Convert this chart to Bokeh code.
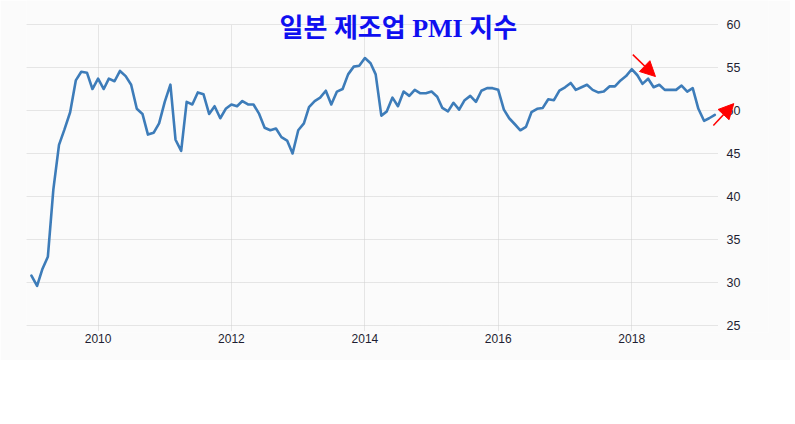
import pandas as pd
from bokeh.plotting import figure
from bokeh.models import Range1d, FixedTicker, DatetimeTickFormatter, Label, Arrow, NormalHead, ColumnDataSource
from bokeh.embed import file_html
from bokeh.resources import INLINE

# ---- data: Japan manufacturing PMI, monthly from Jan 2009 ----
start_month = "2009-01-01"
pmi_2009 = [30.8, 29.6, 31.5, 33.0, 40.8, 46.0, 47.8, 49.8, 53.5, 54.5, 54.4, 52.5]
pmi_2010 = [53.7, 52.5, 53.7, 53.4, 54.6, 54.0, 53.0, 50.2, 49.6, 47.2, 47.4, 48.5]
pmi_2011 = [51.0, 53.0, 46.6, 45.3, 51.0, 50.7, 52.1, 51.9, 49.6, 50.5, 49.1, 50.2]
pmi_2012 = [50.7, 50.5, 51.1, 50.7, 50.7, 49.6, 48.0, 47.7, 47.9, 46.9, 46.5, 45.0]
pmi_2013 = [47.7, 48.5, 50.4, 51.1, 51.5, 52.3, 50.7, 52.2, 52.5, 54.2, 55.1, 55.2]
pmi_2014 = [56.1, 55.5, 54.2, 49.4, 49.9, 51.5, 50.5, 52.2, 51.7, 52.4, 52.0, 52.0]
pmi_2015 = [52.2, 51.6, 50.3, 49.9, 50.9, 50.1, 51.2, 51.7, 51.0, 52.3, 52.6, 52.6]
pmi_2016 = [52.4, 50.1, 49.1, 48.4, 47.7, 48.1, 49.8, 50.2, 50.3, 51.3, 51.2, 52.3]
pmi_2017 = [52.7, 53.2, 52.4, 52.7, 53.0, 52.4, 52.1, 52.2, 52.8, 52.8, 53.5, 54.0]
pmi_2018 = [54.8, 54.1, 53.1, 53.7, 52.7, 53.0, 52.4, 52.4, 52.4, 52.9, 52.2, 52.6]
pmi_2019 = [50.2, 48.8, 49.1, 49.5]

y_ticks = [25, 30, 35, 40, 45, 50, 55, 60]
x_tick_years = [2010, 2012, 2014, 2016, 2018]
grid_x_extent = ["2008-12-05", "2019-04-16"]   # extent of the gridded area
grid_y_extent = [24.42, 60]
view_x_range = ["2008-12-05", "2020-01-20"]
view_y_range = [24.186, 62.791]

title_text = "일본 제조업 PMI 지수"
title_pos = ["2014-07-03", 59.5]

# annotation arrows (start date, start value, end date, end value)
arrow_x_start = ["2018-01-07", "2019-03-24"]
arrow_y_start = [56.5, 48.25]
arrow_x_end = ["2018-05-11", "2019-07-14"]
arrow_y_end = [53.95, 50.8]

# ---- build ----
pmi = pmi_2009 + pmi_2010 + pmi_2011 + pmi_2012 + pmi_2013 + pmi_2014 + \
      pmi_2015 + pmi_2016 + pmi_2017 + pmi_2018 + pmi_2019
dates = pd.date_range(start_month, periods=len(pmi), freq="MS")
src = ColumnDataSource(dict(date=dates, pmi=pmi))


def ms(d):
    return pd.Timestamp(d).value / 1e6


p = figure(
    x_axis_type="datetime",
    y_axis_location="right",
    frame_width=742, frame_height=332,
    min_border_left=26, min_border_top=0, min_border_right=22, min_border_bottom=28,
    x_range=Range1d(ms(view_x_range[0]), ms(view_x_range[1])),
    y_range=Range1d(*view_y_range),
    output_backend="svg", toolbar_location=None,
    background_fill_color="#fbfbfb", border_fill_color="#fbfbfb",
)
p.outline_line_color = None

p.line("date", "pmi", source=src, line_color="#3d7cb9", line_width=2.6,
       line_join="round", line_cap="round")

# axes
x_ticks = [ms(f"{y}-01-01") for y in x_tick_years]
p.xaxis.ticker = FixedTicker(ticks=x_ticks)
p.xaxis.formatter = DatetimeTickFormatter(years="%Y", months="%Y", days="%Y", hours="%Y")
p.xaxis.axis_line_color = None
p.xaxis.major_tick_line_color = None
p.xaxis.major_tick_out = 0
p.xaxis.major_tick_in = 0
p.xaxis.minor_tick_line_color = None
p.xaxis.major_label_standoff = 1
p.xaxis.major_label_text_font = "Liberation Sans"
p.xaxis.major_label_text_font_size = "12px"
p.xaxis.major_label_text_color = "#1e1e32"

p.yaxis.ticker = FixedTicker(ticks=y_ticks)
p.yaxis.fixed_location = ms(grid_x_extent[1])
p.yaxis.axis_line_color = None
p.yaxis.major_tick_line_color = None
p.yaxis.minor_tick_line_color = None
p.yaxis.major_label_standoff = 3
p.yaxis.major_label_text_font = "Liberation Sans"
p.yaxis.major_label_text_font_size = "12.5px"
p.yaxis.major_label_text_color = "#1e1e32"

# grids
p.xgrid.ticker = FixedTicker(ticks=x_ticks)
p.ygrid.ticker = FixedTicker(ticks=y_ticks)
p.xgrid.cross_bounds = (grid_y_extent[0], grid_y_extent[1])
p.ygrid.cross_bounds = (ms(grid_x_extent[0]), ms(grid_x_extent[1]))
for g in (p.xgrid, p.ygrid):
    g.grid_line_color = "#cfcfcf"
    g.grid_line_dash = "1 1"
    g.grid_line_width = 1

# title label
p.add_layout(Label(
    x=ms(title_pos[0]), y=title_pos[1], text=title_text,
    text_align="center", text_baseline="middle",
    text_font="Liberation Serif, Noto Sans CJK KR", text_font_style="bold",
    text_font_size="26px", text_color="#0f0ff0",
))

# arrows
for xs, ys, xe, ye in zip(arrow_x_start, arrow_y_start, arrow_x_end, arrow_y_end):
    p.add_layout(Arrow(
        x_start=ms(xs), y_start=ys, x_end=ms(xe), y_end=ye,
        line_color="#ff0000", line_width=1.5,
        end=NormalHead(size=15, fill_color="#ff0000", line_color="#ff0000"),
    ))

open("out.html", "w").write(file_html(p, INLINE))
